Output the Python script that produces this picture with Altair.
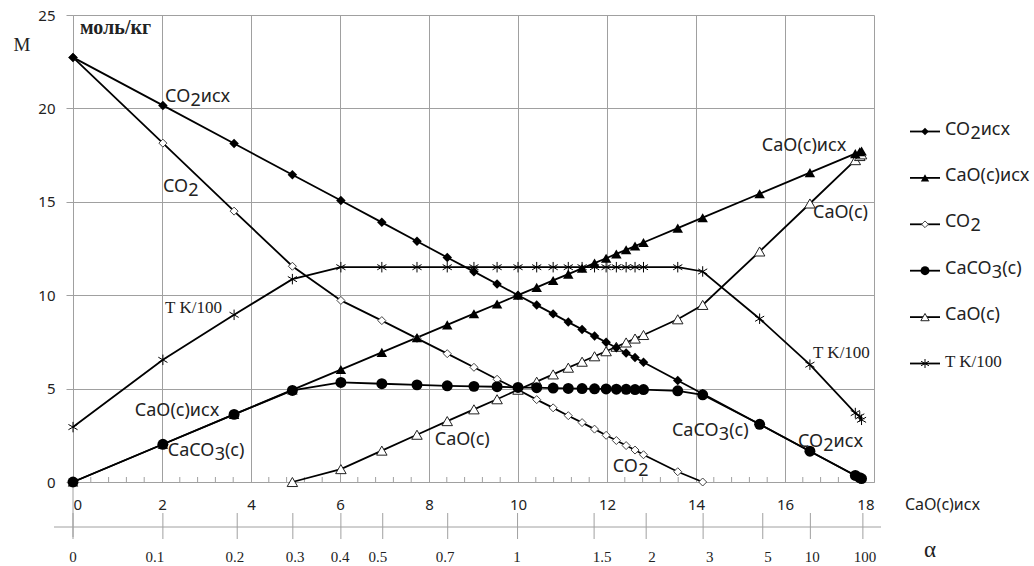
import altair as alt
import pandas as pd

# ---------------- data ----------------
SERIES = ["CO2исх", "CaO(c)исх", "CO2", "CaCO3(c)", "CaO(c)", "T K/100"]

X = [0, 2.02, 3.62, 4.93, 6.02, 6.94, 7.73, 8.41, 9.01, 9.53, 10.0, 10.42, 10.79,
     11.13, 11.44, 11.72, 11.98, 12.21, 12.43, 12.63, 12.82, 13.59, 14.15, 15.43,
     16.56, 17.58, 17.68, 17.72]

CO2_ISX = [22.73, 20.16, 18.12, 16.45, 15.07, 13.9, 12.89, 12.02, 11.26, 10.6, 10.0,
           9.47, 9.0, 8.56, 8.17, 7.81, 7.48, 7.19, 6.91, 6.66, 6.41, 5.43, 4.72, 3.09,
           1.65, 0.35, 0.23, 0.18]

CAO_ISX = [0, 2.02, 3.62, 4.93, 6.02, 6.94, 7.73, 8.41, 9.01, 9.53, 10.0, 10.42, 10.79,
           11.13, 11.44, 11.72, 11.98, 12.21, 12.43, 12.63, 12.82, 13.59, 14.15, 15.43,
           16.56, 17.58, 17.68, 17.72]

CO2 = [22.73, 18.14, 14.5, 11.55, 9.72, 8.64, 7.69, 6.87, 6.14, 5.5, 4.94, 4.41, 3.97,
       3.55, 3.18, 2.83, 2.5, 2.22, 1.95, 1.71, 1.46, 0.55, 0.0,
       None, None, None, None, None]

CACO3 = [0, 2.02, 3.62, 4.9, 5.33, 5.26, 5.2, 5.15, 5.12, 5.1, 5.06, 5.05, 5.03, 5.01,
         5.0, 4.99, 4.98, 4.97, 4.96, 4.95, 4.95, 4.88, 4.67, 3.09, 1.65, 0.35, 0.23, 0.18]

CAO = [None, None, None, 0.0, 0.69, 1.68, 2.53, 3.26, 3.89, 4.43, 4.94, 5.37, 5.76,
       6.12, 6.44, 6.73, 7.0, 7.24, 7.47, 7.68, 7.87, 8.71, 9.48, 12.34, 14.91,
       17.23, 17.45, 17.54]

T_K100 = [2.94, 6.54, 8.95, 10.86, 11.5, 11.5, 11.5, 11.5, 11.5, 11.5, 11.5, 11.5, 11.5,
          11.5, 11.5, 11.5, 11.5, 11.5, 11.5, 11.5, 11.5, 11.5, 11.27, 8.74, 6.28,
          3.69, 3.51, 3.33]

X_TICKS = [0, 2, 4, 6, 8, 10, 12, 14, 16, 18]
Y_TICKS = [0, 5, 10, 15, 20, 25]
MINOR_TICKS = [0.4, 0.8, 1.2, 1.6, 2.4, 2.8, 3.2, 3.6, 4.4, 4.8, 5.2, 5.6, 6.4, 6.8,
               7.2, 7.6, 8.4, 8.8, 9.2, 9.6, 10.4, 10.8, 11.2, 11.6, 12.4, 12.8, 13.2,
               13.6, 14.4, 14.8, 15.2, 15.6, 16.4, 16.8, 17.2, 17.6]

# second (alpha) axis: tick positions in CaO(c)исх units and their labels
ALPHA_LABELS = ["0", "0.1", "0.2", "0.3", "0.4", "0.5", "0.7", "1", "1.5", "2", "3", "5", "10", "100"]
ALPHA_TICK_POS = [0, 2.02, 3.69, 4.94, 6.02, 6.96, 8.42, 9.99, 11.71, 12.88, 14.16, 15.5, 16.57, 17.75]
ALPHA_LABEL_POS = [0, 1.84, 3.64, 4.99, 6.0, 6.85, 8.36, 9.98, 11.89, 13.01, 14.31, 15.62, 16.61, 17.8]

# in-plot annotations: (label, x, y, font)
ANNOT = [
    ("CO2исх", 2.07, 20.63, "sans"),
    ("CO2", 2.02, 15.8, "sans"),
    ("T K/100", 2.07, 9.3, "serif"),
    ("CaO(c)исх", 1.39, 3.81, "sans"),
    ("CaCO3(c)", 2.13, 1.67, "sans"),
    ("CaO(c)", 8.13, 2.27, "sans"),
    ("CO2", 12.13, 0.79, "sans"),
    ("CaCO3(c)", 13.46, 2.74, "sans"),
    ("CO2исх", 16.29, 2.16, "sans"),
    ("T K/100", 16.63, 6.92, "serif"),
    ("CaO(c)", 16.63, 14.38, "sans"),
    ("CaO(c)исх", 15.48, 18.0, "sans"),
]

# ---------------- styling ----------------
GRID = "#a0a0a0"
TXT = "#222222"
SANS = "Noto Sans"
SERIF = "Liberation Serif"
W, H = 801, 467
STAR = "M0,-1L0,1M-0.87,-0.5L0.87,0.5M-0.87,0.5L0.87,-0.5"

xscale = alt.Scale(domain=[0, 18], nice=False, zero=False)
yscale = alt.Scale(domain=[0, 25], nice=False, zero=False)
xaxis = alt.Axis(values=X_TICKS, grid=True, gridColor=GRID, gridWidth=1, domainColor=GRID,
                 domainWidth=1, ticks=False, tickSize=0, labelPadding=15, labelFont=SANS,
                 labelFontSize=15, labelColor=TXT, title=None, format="d")
yaxis = alt.Axis(values=Y_TICKS, grid=True, gridColor=GRID, gridWidth=1, domainColor=GRID,
                 domainWidth=1, ticks=True, tickColor=GRID, tickSize=7, labelPadding=11,
                 labelFont=SANS, labelFontSize=15, labelColor=TXT, title=None, format="d")


def XE(f):
    return alt.X(f, type="quantitative", scale=xscale, axis=xaxis)


def YE(f):
    return alt.Y(f, type="quantitative", scale=yscale, axis=yaxis)


# approximate Noto Sans advance widths (em) used to place subscript pieces
WID = {'C': 0.632, 'a': 0.561, 'O': 0.779, '(': 0.303, ')': 0.303, 'c': 0.480,
       '2': 0.572, '3': 0.572, 'и': 0.646, 'с': 0.480, 'х': 0.525}


def tw(s, fs):
    return sum(WID.get(ch, 0.55) for ch in s) * fs


def segments(label):
    out, buf = [], ""
    for ch in label:
        if ch in "23":
            if buf:
                out.append((buf, False))
                buf = ""
            out.append((ch, True))
        else:
            buf += ch
    if buf:
        out.append((buf, False))
    return out


ONE = pd.DataFrame({"k": [0]})


def rich(label, fs, x_enc, y_enc, data, font_kind="sans", dy0=0):
    layers = []
    if font_kind == "serif":
        layers.append(alt.Chart(data).mark_text(text=label, align="left", baseline="middle",
                                                font=SERIF, fontSize=17, color=TXT, dy=dy0)
                      .encode(x=x_enc, y=y_enc))
        return layers
    off = 0.0
    for txt, sub in segments(label):
        layers.append(alt.Chart(data).mark_text(text=txt, align="left", baseline="middle",
                                                font=SANS, fontSize=fs, color=TXT, dx=off,
                                                dy=dy0 + (4 if sub else 0))
                      .encode(x=x_enc, y=y_enc))
        off += tw(txt, fs)
    return layers


def series_df(ys):
    return pd.DataFrame({"x": X, "y": ys}).dropna()


STYLES = [
    dict(shape="diamond", filled=True, color="black", size=90),
    dict(shape="triangle-up", filled=True, color="black", size=110),
    dict(shape="diamond", filled=True, fill="white", stroke="#444444", strokeWidth=1, size=64),
    dict(shape="circle", filled=True, color="black", size=120),
    dict(shape="triangle-up", filled=True, fill="white", stroke="#222222", strokeWidth=1, size=110),
    dict(shape=STAR, filled=False, stroke="black", strokeWidth=1, size=110),
]
VALUES = [CO2_ISX, CAO_ISX, CO2, CACO3, CAO, T_K100]
MARKER_ORDER = [2, 4, 5, 3, 1, 0]   # open markers underneath the filled ones

layers = []

# minor ticks on the x axis (inside)
minor = pd.DataFrame({"m": MINOR_TICKS})
layers.append(alt.Chart(minor).mark_rule(color=GRID, strokeWidth=1)
              .encode(x=XE("m"), y=alt.value(H), y2=alt.value(H - 5)))

# extension of the y axis downward and the alpha axis
layers.append(alt.Chart(ONE).mark_rule(color=GRID, strokeWidth=1)
              .encode(x=alt.value(0), y=alt.value(H), y2=alt.value(522)))
layers.append(alt.Chart(ONE).mark_rule(color=GRID, strokeWidth=1)
              .encode(x=alt.value(-19), x2=alt.value(808), y=alt.value(512)))
atick = pd.DataFrame({"p": ALPHA_TICK_POS})
layers.append(alt.Chart(atick).mark_rule(color=GRID, strokeWidth=1)
              .encode(x=XE("p"), y=alt.value(498), y2=alt.value(524)))
alab = pd.DataFrame({"p": ALPHA_LABEL_POS, "t": ALPHA_LABELS})
layers.append(alt.Chart(alab).mark_text(font=SERIF, fontSize=15, color=TXT, baseline="middle")
              .encode(x=XE("p"), y=alt.value(542), text="t:N"))

# data series: lines first, then markers
for ys in VALUES:
    df = series_df(ys)
    layers.append(alt.Chart(df).mark_line(color="black", strokeWidth=1.8)
                  .encode(x=XE("x"), y=YE("y")))
for i in MARKER_ORDER:
    df = series_df(VALUES[i])
    layers.append(alt.Chart(df).mark_point(opacity=1, **STYLES[i])
                  .encode(x=XE("x"), y=YE("y")))

# annotations inside the plot
for lab, ax, ay, kind in ANNOT:
    d = pd.DataFrame({"x": [ax], "y": [ay]})
    layers += rich(lab, 18, XE("x"), YE("y"), d, kind)

# axis titles / units
layers.append(alt.Chart(ONE).mark_text(text="M", font=SERIF, fontSize=19, color=TXT,
                                       align="center", baseline="middle")
              .encode(x=alt.value(-51), y=alt.value(30)))
layers.append(alt.Chart(ONE).mark_text(text="моль/кг", font=SERIF, fontSize=20, fontWeight="bold",
                                       color=TXT, align="left", baseline="middle")
              .encode(x=alt.value(7), y=alt.value(13)))
layers.append(alt.Chart(ONE).mark_text(text="CaO(c)исх", font=SANS, fontSize=16, color=TXT,
                                       align="left", baseline="middle")
              .encode(x=alt.value(832), y=alt.value(490)))
layers.append(alt.Chart(ONE).mark_text(text="α", font=SERIF, fontSize=23, color=TXT,
                                       align="center", baseline="middle")
              .encode(x=alt.value(857), y=alt.value(535)))

# manual legend
LEG_STYLES = [
    dict(shape="diamond", filled=True, color="black", size=55),
    dict(shape="triangle-up", filled=True, color="black", size=70),
    dict(shape="diamond", filled=True, fill="white", stroke="#444444", strokeWidth=1, size=45),
    dict(shape="circle", filled=True, color="black", size=80),
    dict(shape="triangle-up", filled=True, fill="white", stroke="#222222", strokeWidth=1, size=70),
    dict(shape=STAR, filled=False, stroke="black", strokeWidth=1, size=80),
]
for i, (name, st) in enumerate(zip(SERIES, LEG_STYLES)):
    ly = 116.5 + 46.4 * i
    layers.append(alt.Chart(ONE).mark_rule(color="black", strokeWidth=1.8)
                  .encode(x=alt.value(837), x2=alt.value(867), y=alt.value(ly)))
    layers.append(alt.Chart(ONE).mark_point(opacity=1, **st)
                  .encode(x=alt.value(852), y=alt.value(ly)))
    kind = "serif" if name.startswith("T") else "sans"
    layers += rich(name, 18, alt.value(872), alt.value(ly), ONE, kind, dy0=-2)

chart = alt.layer(*layers).properties(
    width=W, height=H,
    autosize=alt.AutoSizeParams(type="none"),
    padding={"left": 73, "top": 15, "right": 160, "bottom": 84},
    background="white",
).configure_view(strokeWidth=0)

chart.save("out.html", embed_options={"renderer": "svg", "actions": False})
